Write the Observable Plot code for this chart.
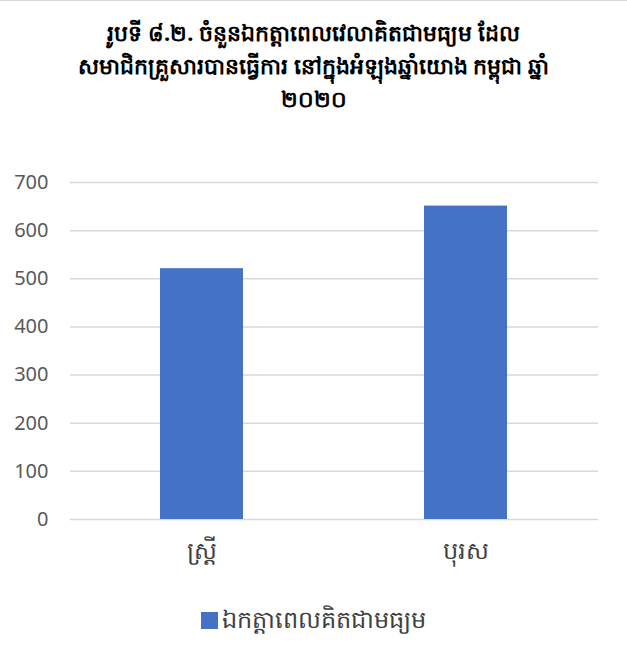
<!DOCTYPE html>
<html>
<head>
<meta charset="utf-8">
<script src="https://cdn.jsdelivr.net/npm/d3@7"></script>
<script src="https://cdn.jsdelivr.net/npm/@observablehq/plot@0.6"></script>
<style>
  html, body { margin: 0; padding: 0; background: #fff; }
  #wrap { width: 627px; height: 662px; position: relative; border-top: 1px solid #d9d9d9; box-sizing: border-box; font-family: "Noto Sans", "DejaVu Sans", sans-serif; }
  #title { position: absolute; top: 15px; left: 0; width: 627px; text-align: center; font-weight: bold; font-size: 22px; line-height: 33px; color: #000; }
  #chart { position: absolute; top: 164px; left: 0; }
  #legend { position: absolute; top: 600px; left: 0; width: 627px; text-align: center; font-size: 24px; color: #404040; }
  #legend .sw { display: inline-block; width: 17px; height: 17px; background: #4472C4; vertical-align: middle; margin-right: 4px; }
</style>
</head>
<body>
<div id="wrap">
  <div id="title">រូបទី ៨.២. ចំនួនឯកត្តាពេលវេលាគិតជាមធ្យម ដែល<br>សមាជិកគ្រួសារបានធ្វើការ នៅក្នុងអំឡុងឆ្នាំយោង កម្ពុជា ឆ្នាំ<br>២០២០</div>
  <div id="chart"></div>
  <div id="legend"><span class="sw"></span><span style="vertical-align:middle">ឯកត្តាពេលគិតជាមធ្យម</span></div>
</div>
<script>
const categories = ["ស្ត្រី", "បុរស"];
const values = [521, 651];
const yTicks = [0, 100, 200, 300, 400, 500, 600, 700];

const data = categories.map((c, i) => ({category: c, value: values[i]}));

const chart = Plot.plot({
  width: 627,
  height: 411,
  marginTop: 17,
  marginBottom: 57,
  marginLeft: 70,
  marginRight: 29,
  style: {fontFamily: "'Noto Sans', 'DejaVu Sans', sans-serif", background: "#fff"},
  x: {domain: categories, paddingInner: 0.685, paddingOuter: 0.3425, label: null},
  y: {domain: [0, 700], ticks: yTicks, label: null},
  marks: [
    Plot.gridY(yTicks, {stroke: "#d9d9d9", strokeOpacity: 1, strokeWidth: 1.5}),
    Plot.barY(data, {x: "category", y: "value", fill: "#4472C4"}),
    Plot.axisY(yTicks, {tickSize: 0, tickPadding: 22, fontSize: 20, fill: "#595959", label: null, tickFormat: d => String(d)}),
    Plot.axisX({tickSize: 0, tickPadding: 22, fontSize: 24, fill: "#404040", label: null})
  ]
});
document.getElementById("chart").appendChild(chart);
</script>
</body>
</html>
